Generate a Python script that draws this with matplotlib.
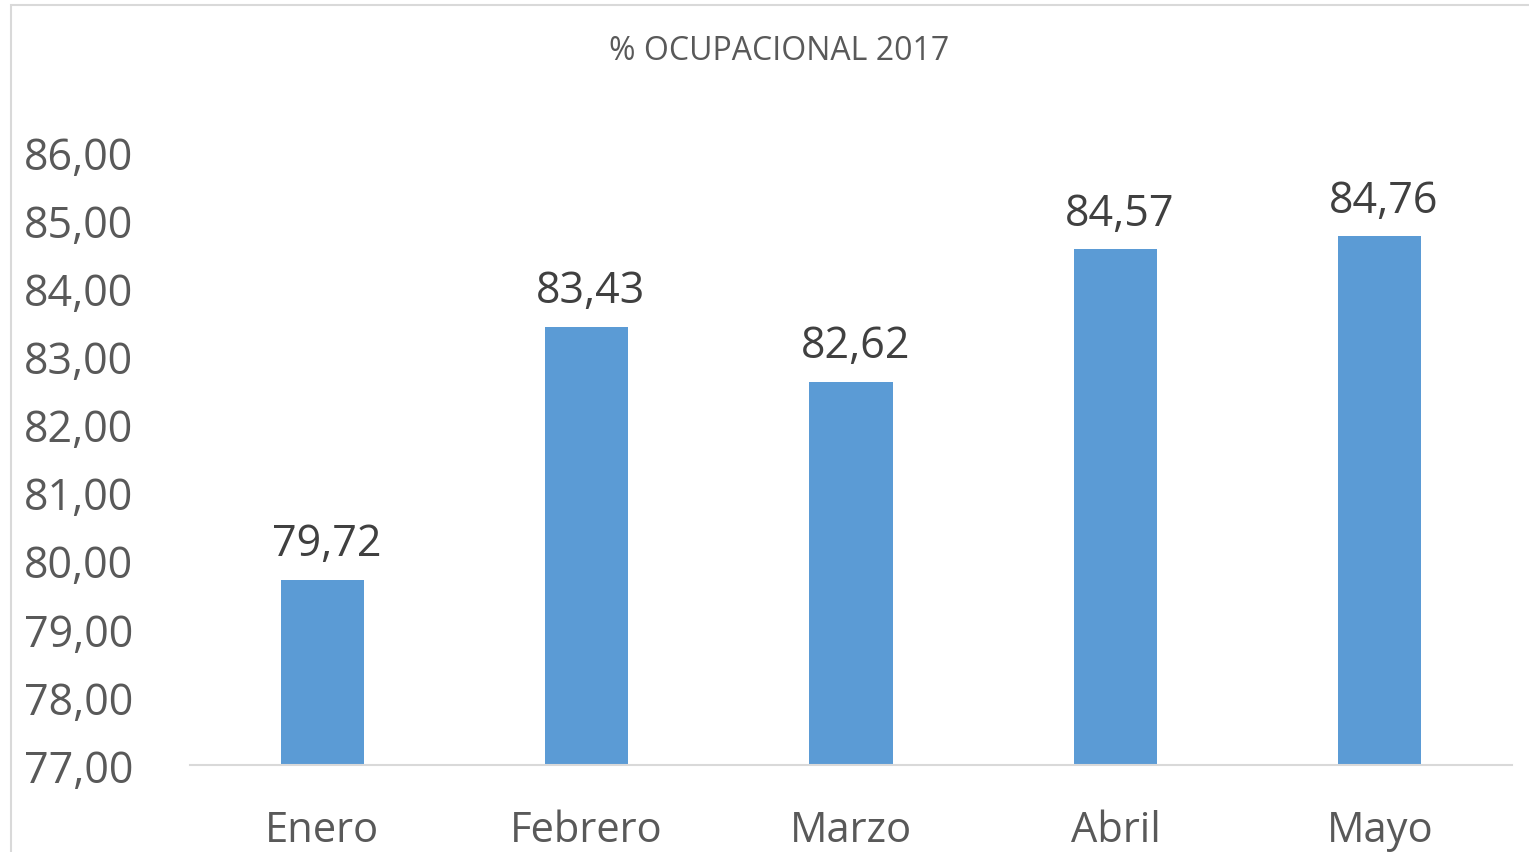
import matplotlib.pyplot as plt
from matplotlib.patches import Rectangle
from matplotlib.ticker import FuncFormatter

meses = ["Enero", "Febrero", "Marzo", "Abril", "Mayo"]
ocupacion = [79.72, 83.43, 82.62, 84.57, 84.76]
y_ticks = [77, 78, 79, 80, 81, 82, 83, 84, 85, 86]

plt.rcParams["font.family"] = ["Open Sans", "DejaVu Sans"]

fig = plt.figure(figsize=(15.29, 8.53), dpi=100)
ax = fig.add_axes([190 / 1529, 1 - 766 / 853, 1322 / 1529, (766 - 153) / 853])

barras = ax.bar(meses, ocupacion, width=0.315, color="#5B9BD5", bottom=0)
ax.set_ylim(77, 86)
ax.set_xlim(-0.5, 4.5)
ax.set_yticks(y_ticks)
ax.yaxis.set_major_formatter(FuncFormatter(lambda v, p: f"{v:.2f}".replace(".", ",")))

for b, v in zip(barras, ocupacion):
    ax.annotate(f"{v:.2f}".replace(".", ","), (b.get_x() + b.get_width() / 2, v),
                xytext=(3, 10), textcoords="offset points", ha="center", va="bottom",
                fontsize=31, color="#404040")

for s in ["top", "right", "left"]:
    ax.spines[s].set_visible(False)
ax.spines["bottom"].set_color("#D9D9D9")
ax.spines["bottom"].set_linewidth(1.5)
ax.tick_params(axis="y", length=0, pad=41, labelsize=31, labelcolor="#595959")
ax.tick_params(axis="x", length=0, pad=32, labelsize=30, labelcolor="#595959")

fig.text(779 / 1529, 1 - 52 / 853, "% OCUPACIONAL 2017", ha="center", va="center",
         fontsize=23, color="#595959")

fig.patches.append(Rectangle((11 / 1529, -0.1), 1.2, 1 - 6 / 853 + 0.1, transform=fig.transFigure,
                             fill=False, ec="#D9D9D9", lw=1.5))

fig.savefig("out.png", dpi=100)
